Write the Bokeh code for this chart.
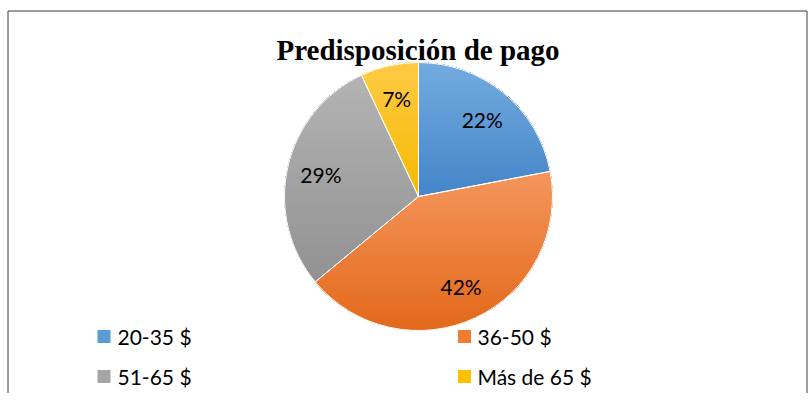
import numpy as np
from bokeh.plotting import figure
from bokeh.models import Range1d
from bokeh.core.properties import value
from bokeh.embed import file_html
from bokeh.resources import INLINE

# ---- data ----
title_text = "Predisposición de pago"
categories = ["20-35 $", "36-50 $", "51-65 $", "Más de 65 $"]
shares = [22, 42, 29, 7]
pct_labels = ["22%", "42%", "29%", "7%"]
top_colors = ["#72ABDF", "#F4965C", "#B3B3B3", "#FFCA45"]
bottom_colors = ["#4585C8", "#E3691B", "#929292", "#F4BA00"]
legend_colors = ["#5B9BD5", "#ED7D31", "#A5A5A5", "#FFC000"]

W, H = 808, 393
p = figure(width=W, height=H, output_backend="svg", toolbar_location=None,
           x_range=Range1d(0, W), y_range=Range1d(0, H), min_border=0,
           outline_line_color=None, background_fill_color="white",
           border_fill_color="white")
p.axis.visible = False
p.grid.visible = False


def sx(x):
    return x


def sy(y):
    return H - y


# border
p.quad(left=[sx(7.5)], right=[sx(806.5)], top=[sy(10.5)], bottom=[sy(420)],
       fill_color=None, line_color="#3a3a3a", line_width=1)

cx, cy, R = sx(418), sy(196), 134.0

total = float(sum(shares))
fracs = [s / total for s in shares]
starts, ends = [], []
a = np.pi / 2
for f in fracs:
    starts.append(a)
    a = a - f * 2 * np.pi
    ends.append(a)

# base wedges
p.wedge(x=[cx] * 4, y=[cy] * 4, radius=R, start_angle=ends, end_angle=starts,
        fill_color=bottom_colors, line_color=None)


def hex2rgb(h):
    h = h.lstrip("#")
    return np.array([int(h[i:i + 2], 16) for i in (0, 2, 4)], dtype=float)


def rgb2hex(c):
    return "#%02x%02x%02x" % tuple(int(round(v)) for v in c)


def clip_above(poly, yk):
    out = []
    n = len(poly)
    for i in range(n):
        x1, y1 = poly[i]
        x2, y2 = poly[(i + 1) % n]
        in1, in2 = y1 >= yk, y2 >= yk
        if in1:
            out.append((x1, y1))
        if in1 != in2:
            t = (yk - y1) / (y2 - y1)
            out.append((x1 + t * (x2 - x1), yk))
    return out


band_xs, band_ys, band_cols = [], [], []
NB = 45
for i in range(4):
    angs = np.linspace(starts[i], ends[i], 120)
    poly = [(cx, cy)] + [(cx + R * np.cos(t), cy + R * np.sin(t)) for t in angs]
    ymin = min(q[1] for q in poly)
    ymax = max(q[1] for q in poly)
    c0, c1 = hex2rgb(bottom_colors[i]), hex2rgb(top_colors[i])
    levels = np.linspace(ymin, ymax, NB + 1)[:-1]
    for k, yk in enumerate(levels):
        reg = clip_above(poly, yk)
        if len(reg) < 3:
            continue
        t = k / (NB - 1)
        band_xs.append([q[0] for q in reg])
        band_ys.append([q[1] for q in reg])
        band_cols.append(rgb2hex(c0 + (c1 - c0) * t))

p.patches(xs=band_xs, ys=band_ys, fill_color=band_cols, line_color=None)

# white slice separators
p.wedge(x=[cx] * 4, y=[cy] * 4, radius=R, start_angle=ends, end_angle=starts,
        fill_color=None, line_color="white", line_width=1)

# percentage labels
mids = [(s + e) / 2 for s, e in zip(starts, ends)]
rl = 100
p.text(x=[cx + rl * np.cos(m) for m in mids], y=[cy + rl * np.sin(m) for m in mids],
       text=pct_labels, text_align="center", text_baseline="middle",
       text_font=value("Lato"), text_font_size="21px", text_color="#000000")

# title
p.text(x=[sx(417.5)], y=[sy(49)], text=[title_text], text_align="center",
       text_baseline="middle", text_font=value("Liberation Serif"),
       text_font_style="bold", text_font_size="29px", text_color="#000000")

# legend
sq_x = [sx(103.5), sx(464), sx(103.5), sx(464)]
sq_y = [sy(336), sy(336), sy(376), sy(376)]
p.scatter(x=sq_x, y=sq_y, marker="square", size=13, fill_color=legend_colors,
          line_color=None)
p.text(x=[sx(117), sx(477), sx(117), sx(477)], y=[sy(336), sy(336), sy(376), sy(376)],
       text=categories, text_align="left", text_baseline="middle",
       text_font=value("Lato"), text_font_size="21px", text_color="#000000")

open("out.html", "w").write(file_html(p, INLINE))
